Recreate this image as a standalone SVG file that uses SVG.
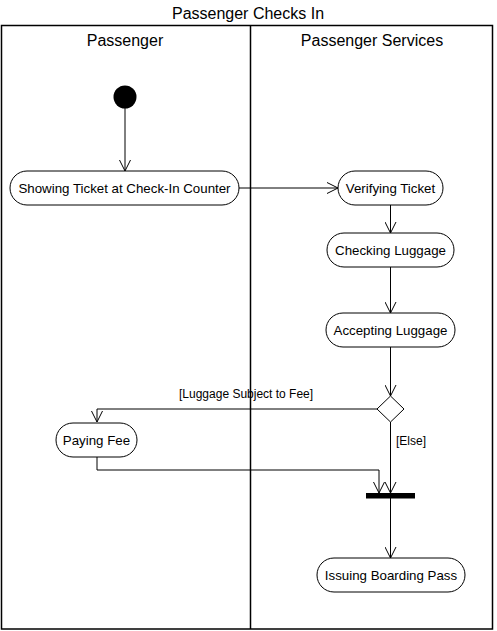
<svg xmlns="http://www.w3.org/2000/svg" width="497" height="631" viewBox="0 0 497 631">
<defs>
<marker id="arr" markerWidth="12" markerHeight="12" viewBox="0 0 12 12" refX="11" refY="6" orient="auto" markerUnits="userSpaceOnUse">
<path d="M0,0.5 L11,6 L0,11.5" fill="none" stroke="#000" stroke-width="1"/>
</marker>
</defs>
<style>
text{font-family:"Liberation Sans",Arial,sans-serif;fill:#000}
.t16{font-size:16px;text-anchor:middle}
.n{font-size:13.3px;text-anchor:middle}
.l{font-size:12px}
.act{fill:#fff;stroke:#000;stroke-width:1}
.c{fill:none;stroke:#000;stroke-width:1;marker-end:url(#arr)}
.lane{fill:none;stroke:#000;stroke-width:1.5}
</style>
<rect width="497" height="631" fill="#fff"/>
<text class="t16" x="248" y="19">Passenger Checks In</text>
<g id="lanes">
<rect class="lane" x="1.5" y="25.5" width="491" height="603.5"/>
<line class="lane" x1="250.5" y1="25.5" x2="250.5" y2="629"/>
<text class="t16" x="125" y="46">Passenger</text>
<text class="t16" x="372" y="46">Passenger Services</text>
</g>
<g id="connectors">
<line class="c" x1="125" y1="108" x2="125" y2="171"/>
<line class="c" x1="239" y1="188" x2="338" y2="188"/>
<line class="c" x1="390.5" y1="205" x2="390.5" y2="233"/>
<line class="c" x1="390.5" y1="267" x2="390.5" y2="313"/>
<line class="c" x1="390.5" y1="347" x2="390.5" y2="396"/>
<polyline class="c" points="377,409 97,409 97,422"/>
<text class="l" x="179" y="398">[Luggage Subject to Fee]</text>
<line class="c" x1="390.5" y1="422" x2="390.5" y2="493"/>
<text class="l" x="396" y="445">[Else]</text>
<polyline class="c" points="97,457 97,470 379,470 379,493"/>
<line class="c" x1="390.5" y1="498" x2="390.5" y2="558"/>
</g>
<g id="start"><circle cx="125" cy="97" r="11.5" fill="#000"/></g>
<g id="showing"><rect class="act" x="10" y="171" width="229" height="34" rx="17"/><text class="n" x="124.5" y="192.7">Showing Ticket at Check-In Counter</text></g>
<g id="verifying"><rect class="act" x="338" y="171" width="105" height="34" rx="17"/><text class="n" x="390.5" y="192.7">Verifying Ticket</text></g>
<g id="checking"><rect class="act" x="327" y="233" width="127" height="34" rx="17"/><text class="n" x="390.5" y="254.7">Checking Luggage</text></g>
<g id="accepting"><rect class="act" x="326" y="313" width="129" height="34" rx="17"/><text class="n" x="390.5" y="334.7">Accepting Luggage</text></g>
<g id="decision"><polygon class="act" points="390.5,396 404,409 390.5,422 377,409"/></g>
<g id="paying"><rect class="act" x="56" y="423" width="81" height="34" rx="17"/><text class="n" x="96.5" y="444.7">Paying Fee</text></g>
<g id="join"><rect x="366" y="493" width="49" height="5.5" fill="#000"/></g>
<g id="issuing"><rect class="act" x="317" y="558" width="148" height="34" rx="17"/><text class="n" x="391" y="579.7">Issuing Boarding Pass</text></g>
</svg>
